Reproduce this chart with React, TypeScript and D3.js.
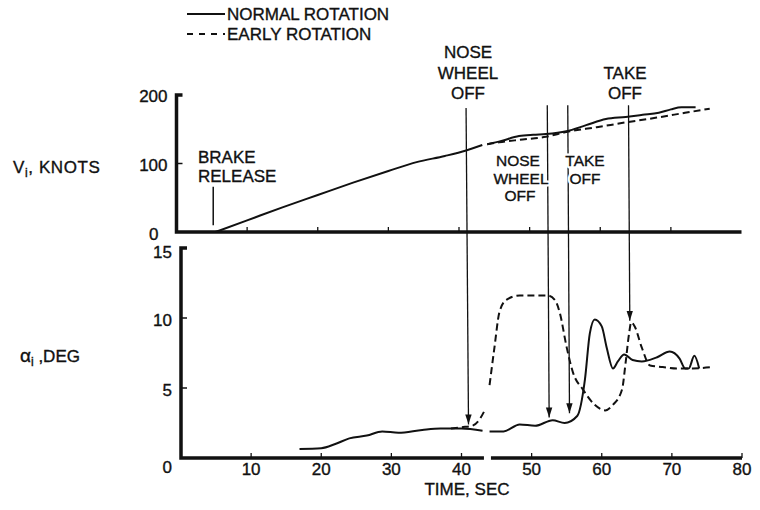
import * as d3 from "d3";

const W = 760;
const H = 510;
const font = "'Liberation Sans', Arial, sans-serif";

// indicated airspeed, knots — [time sec, value]; null = break in the trace
const speedNormal: [number, number | null][] = [
  [5.5, 0], [10, 17], [15, 36], [20, 54], [25, 72], [30, 89], [34, 102], [38, 111],
  [41, 119], [43.3, 127], [43.7, null],
  [44, 128], [46, 133], [48.5, 140], [50.5, 142], [52.3, 143], [55.2, 147], [58, 156],
  [60.8, 165], [63.6, 168], [66, 171], [68.3, 174], [70, 179], [71.5, 182], [73.5, 182],
];
const speedEarly: [number, number | null][] = [
  [44, 128], [45.7, 131], [49, 135], [52.3, 139], [55.2, 146], [59.5, 153], [63.6, 160],
  [68, 167], [72, 174], [75.5, 180],
];

// angle of attack, deg
const alphaNormal: [number, number | null][] = [
  [16.9, 0.65], [20, 0.7], [22, 1.0], [24, 1.4], [26.5, 1.6], [28.7, 1.9], [31, 1.8],
  [34.4, 2.0], [37, 2.1], [40, 2.1], [43, 1.95], [43.6, null],
  [44, 1.9], [46, 1.9], [48.3, 2.4], [50.5, 2.3], [53, 2.7], [54.7, 2.5], [56.5, 3.0],
  [57.6, 5.6], [58.3, 8.9], [59, 9.9], [60, 9.4], [60.7, 7.9], [61.6, 6.4], [62.3, 6.9],
  [63.2, 7.4], [64.4, 7.0], [65.7, 6.9], [67.9, 7.2], [69.7, 7.6], [71.1, 7.1], [71.9, 6.4],
  [72.4, 6.4], [73.2, 7.3], [73.9, 6.4],
];
const alphaEarly: [number, number | null][] = [
  [38.5, 2.1], [40, 2.2], [41.5, 2.3], [42.5, 2.7], [43.2, 3.3], [43.6, null],
  [44, 5.2], [44.7, 7.9], [45.4, 10.4], [46.4, 11.3], [48.3, 11.6], [52.3, 11.6],
  [53.3, 11.3], [54, 10.4], [55, 7.9], [55.9, 6.1], [57.3, 4.9], [59, 3.8], [60.5, 3.4],
  [61.6, 3.8], [62.9, 4.9], [63.4, 6.8], [63.9, 8.9], [64.2, 9.7], [64.7, 9.4], [65.7, 7.9],
  [66.9, 6.6], [68.7, 6.5], [70.7, 6.4], [73, 6.4], [75.9, 6.5],
];

// event arrows: time, top end (knots), tip (deg)
const events = [
  { t: 41, vTop: 181, aTip: 2.4 },
  { t: 52.5, vTop: 185, aTip: 2.9 },
  { t: 55.4, vTop: 185, aTip: 3.2 },
  { t: 64, vTop: 185, aTip: 9.8 },
];

const timeTicks = [10, 20, 30, 40, 50, 60, 70, 80];
const speedTicks = [0, 100, 200];
const alphaTicks = [0, 5, 10, 15];

export default function App() {
  const xTop = d3.scaleLinear().domain([0, 80]).range([176.5, 741.5]);
  const yTop = d3.scaleLinear().domain([0, 200]).range([232, 95]);
  const xBot = d3.scaleLinear().domain([0, 80]).range([181, 742]);
  const yBot = d3.scaleLinear().domain([0, 15]).range([458, 248]);

  const lineTop = d3
    .line<[number, number | null]>()
    .defined((d) => d[1] !== null)
    .x((d) => xTop(d[0]))
    .y((d) => yTop(d[1] as number))
    .curve(d3.curveMonotoneX);
  const lineBot = d3
    .line<[number, number | null]>()
    .defined((d) => d[1] !== null)
    .x((d) => xBot(d[0]))
    .y((d) => yBot(d[1] as number))
    .curve(d3.curveMonotoneX);

  const txt = {
    fontFamily: font,
    fontSize: 17,
    fill: "#111",
    stroke: "#111",
    strokeWidth: 0.35,
  } as const;

  // label that blanks out the arrow line behind it
  const Cut = ({ x, y, s }: { x: number; y: number; s: string }) => (
    <g fontFamily={font} fontSize={15.5} textAnchor="middle">
      <text x={x} y={y} fill="#fff" stroke="#fff" strokeWidth={5} strokeLinejoin="round">
        {s}
      </text>
      <text x={x} y={y} fill="#111" stroke="#111" strokeWidth={0.35}>
        {s}
      </text>
    </g>
  );

  return (
    <svg
      width={W}
      height={H}
      style={{ position: "absolute", left: 0, top: 0, background: "#fff" }}
    >
      <defs>
        <marker
          id="arr"
          markerUnits="userSpaceOnUse"
          markerWidth={10}
          markerHeight={8}
          viewBox="0 0 10 8"
          refX={10}
          refY={4}
          orient="auto"
        >
          <path d="M0,0.8 L10,4 L0,7.2 Z" fill="#111" />
        </marker>
      </defs>

      {/* legend */}
      <line x1={187} x2={225} y1={14} y2={14} stroke="#111" strokeWidth={1.8} />
      <text x={227} y={20} {...txt}>NORMAL ROTATION</text>
      <line x1={187} x2={225} y1={34} y2={34} stroke="#111" strokeWidth={1.8} strokeDasharray="6,6" />
      <text x={227} y={40} {...txt}>EARLY ROTATION</text>

      {/* top panel axes */}
      <path
        d={`M${xTop(0) + 6},${yTop(200)} H${xTop(0)} V${yTop(0)} H${xTop(80)}`}
        fill="none"
        stroke="#111"
        strokeWidth={3.5}
      />
      <line x1={xTop(0)} x2={xTop(0) + 6} y1={yTop(100)} y2={yTop(100)} stroke="#111" strokeWidth={1.5} />
      {timeTicks.slice(0, 7).map((t) => (
        <line key={t} x1={xTop(t)} x2={xTop(t)} y1={yTop(0)} y2={yTop(0) - 5} stroke="#111" strokeWidth={1.3} />
      ))}
      {speedTicks.map((v) => (
        <text
          key={v}
          x={v === 0 ? xTop(0) - 18 : xTop(0) - 9}
          y={yTop(v) + (v === 0 ? 8 : 7)}
          textAnchor="end"
          {...txt}
        >
          {v}
        </text>
      ))}
      <text x={13} y={173} {...txt} letterSpacing={0.6}>
        V<tspan fontSize={12} dy={4}>i</tspan>
        <tspan dy={-4}>, KNOTS</tspan>
      </text>

      {/* bottom panel axes */}
      <path
        d={`M${xBot(0) + 6},${yBot(15)} H${xBot(0)} V${yBot(0)} H${xBot(43.2)} M${xBot(44.2)},${yBot(0)} H${xBot(80)}`}
        fill="none"
        stroke="#111"
        strokeWidth={3.5}
      />
      {alphaTicks.slice(1, 3).map((a) => (
        <line key={a} x1={xBot(0)} x2={xBot(0) + 6} y1={yBot(a)} y2={yBot(a)} stroke="#111" strokeWidth={1.5} />
      ))}
      {timeTicks.map((t) => (
        <line key={t} x1={xBot(t)} x2={xBot(t)} y1={yBot(0)} y2={yBot(0) - 5} stroke="#111" strokeWidth={1.3} />
      ))}
      {alphaTicks.map((a) => (
        <text
          key={a}
          x={xBot(0) - 9}
          y={yBot(a) + (a === 0 ? 15 : a === 15 ? 10 : 8)}
          textAnchor="end"
          {...txt}
        >
          {a}
        </text>
      ))}
      {timeTicks.map((t) => (
        <text key={t} x={xBot(t)} y={475} textAnchor="middle" {...txt}>
          {t}
        </text>
      ))}
      <text x={467} y={495} textAnchor="middle" {...txt}>TIME, SEC</text>
      <text x={20} y={362} {...txt}>
        <tspan fontSize={19}>α</tspan>
        <tspan fontSize={12} dy={4}>i</tspan>
        <tspan dy={-4}> ,DEG</tspan>
      </text>

      {/* traces */}
      <path d={lineTop(speedNormal) ?? ""} fill="none" stroke="#111" strokeWidth={2} />
      <path d={lineTop(speedEarly) ?? ""} fill="none" stroke="#111" strokeWidth={2} strokeDasharray="7,4" />
      <path d={lineBot(alphaNormal) ?? ""} fill="none" stroke="#111" strokeWidth={2} />
      <path d={lineBot(alphaEarly) ?? ""} fill="none" stroke="#111" strokeWidth={2} strokeDasharray="7,4" />

      {/* brake release */}
      <line x1={xTop(5.2)} x2={xTop(5.2)} y1={yTop(66)} y2={yTop(10)} stroke="#111" strokeWidth={1.5} />
      <text x={198} y={163} {...txt}>BRAKE</text>
      <text x={198} y={182} {...txt}>RELEASE</text>

      {/* event arrows */}
      {events.map((e) => (
        <line
          key={e.t}
          x1={xTop(e.t)}
          y1={yTop(e.vTop)}
          x2={xBot(e.t)}
          y2={yBot(e.aTip)}
          stroke="#111"
          strokeWidth={1.3}
          markerEnd="url(#arr)"
        />
      ))}

      {/* event labels */}
      <text x={468} y={58} textAnchor="middle" {...txt}>NOSE</text>
      <text x={468} y={79} textAnchor="middle" {...txt}>WHEEL</text>
      <text x={468} y={99} textAnchor="middle" {...txt}>OFF</text>
      <text x={625} y={79} textAnchor="middle" {...txt}>TAKE</text>
      <text x={625} y={99} textAnchor="middle" {...txt}>OFF</text>
      <Cut x={518} y={166} s="NOSE" />
      <Cut x={521} y={183.5} s="WHEEL" />
      <Cut x={520} y={201} s="OFF" />
      <Cut x={585} y={166} s="TAKE" />
      <Cut x={585} y={183.5} s="OFF" />
    </svg>
  );
}
